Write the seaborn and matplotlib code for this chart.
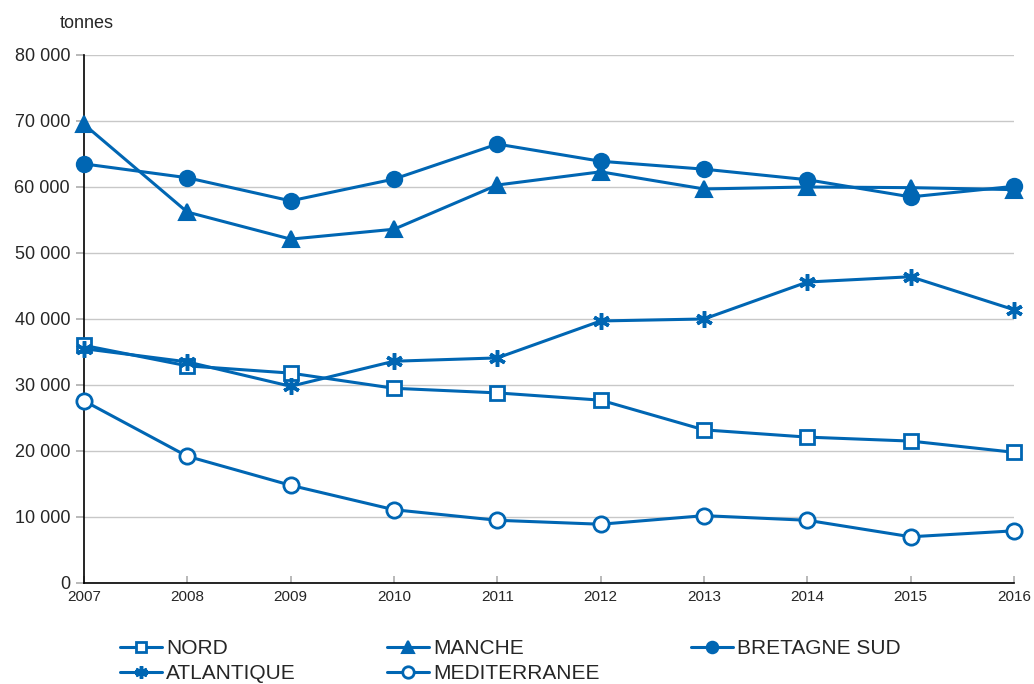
import seaborn as sns
import matplotlib.pyplot as plt
from matplotlib.ticker import FuncFormatter

# ---- données (tonnes) ----
annees = [2007, 2008, 2009, 2010, 2011, 2012, 2013, 2014, 2015, 2016]
nord = [36000, 32900, 31800, 29500, 28800, 27700, 23200, 22100, 21500, 19800]
manche = [69500, 56200, 52100, 53600, 60300, 62300, 59700, 60000, 59900, 59600]
bretagne_sud = [63500, 61400, 57900, 61200, 66500, 63900, 62700, 61100, 58500, 60100]
atlantique = [35500, 33500, 29800, 33600, 34100, 39700, 40000, 45600, 46400, 41400]
mediterranee = [27600, 19200, 14800, 11100, 9500, 8900, 10200, 9500, 7000, 7900]

sns.set_theme(style='white')
plt.rcParams['font.family'] = ['Liberation Sans', 'DejaVu Sans']

bleu = '#0066b3'
fig, ax = plt.subplots(figsize=(10.34, 6.84), dpi=100)
fig.subplots_adjust(left=0.0812, right=0.9807, top=0.9196, bottom=0.1477)

# (nom, valeurs, marqueur, creux ?)
series = [
    ('NORD', nord, 's', True),
    ('ATLANTIQUE', atlantique, (6, 2, 0), False),
    ('MANCHE', manche, '^', False),
    ('MEDITERRANEE', mediterranee, 'o', True),
    ('BRETAGNE SUD', bretagne_sud, 'o', False),
]

for nom, vals, mk, creux in series:
    if mk == 's':
        taille, ep = 10, 2
    elif mk == 'o' and creux:
        taille, ep = 11, 2
    elif mk == '^' or mk == 'o':
        taille, ep = 11, 1.5
    else:
        taille, ep = 12, 2.5
    sns.lineplot(x=annees, y=vals, ax=ax, color=bleu, linewidth=2.2,
                 marker=mk, markersize=taille,
                 markerfacecolor='white' if creux else bleu,
                 markeredgecolor=bleu, markeredgewidth=ep,
                 label=nom, clip_on=False, zorder=3)

ax.set_xlim(2007, 2016)
ax.set_ylim(0, 80000)
ax.set_xticks(annees)
ax.set_yticks(range(0, 80001, 10000))
ax.yaxis.set_major_formatter(FuncFormatter(lambda v, p: f'{int(v):,}'.replace(',', ' ')))
ax.tick_params(axis='y', labelsize=13, length=6, color='#b0b0b0', direction='out', left=True, pad=4)
ax.tick_params(axis='x', labelsize=11, length=5, color='#b0b0b0', direction='in', bottom=True, pad=5)
ax.grid(axis='y', color='#c8c8c8', linewidth=1)
ax.set_axisbelow(True)
ax.set_xlabel('')
ax.set_ylabel('')

sns.despine(ax=ax)
for s in ['left', 'bottom']:
    ax.spines[s].set_color('black')
    ax.spines[s].set_linewidth(1.2)

fig.text(0.058, 0.965, 'tonnes', fontsize=13, ha='left', va='center')

ax.legend(ncol=3, loc='upper left', bbox_to_anchor=(0.030, -0.09), frameon=False,
          fontsize=15, handlelength=2, columnspacing=4.4, labelspacing=0.3,
          handletextpad=0.2, borderaxespad=0, markerscale=0.75)

plt.savefig('out.png', dpi=100)
